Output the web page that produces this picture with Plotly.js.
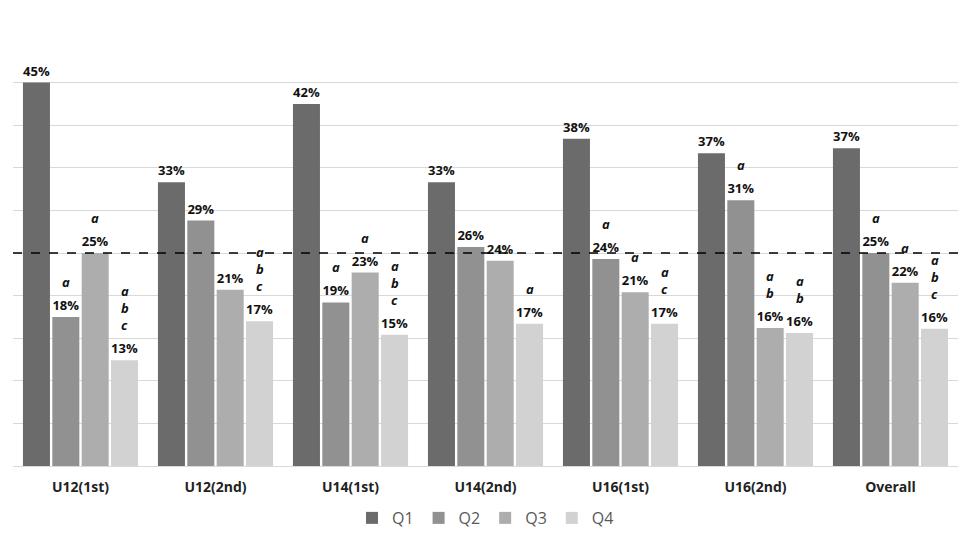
<!DOCTYPE html>
<html>
<head>
<meta charset="utf-8">
<script src="https://cdn.plot.ly/plotly-3.0.1.min.js"></script>
<style>
  html, body { margin: 0; padding: 0; background: #fff; }
  #graph { width: 972px; height: 547px; }
</style>
</head>
<body>
<div id="graph"></div>
<script>
// values (percent)
var categories = ['U12(1st)', 'U12(2nd)', 'U14(1st)', 'U14(2nd)', 'U16(1st)', 'U16(2nd)', 'Overall'];
var q1 = [45, 33.3, 42.5, 33.3, 38.4, 36.7, 37.3];
var q2 = [17.5, 28.8, 19.2, 25.7, 24.3, 31.2, 25.0];
var q3 = [25.0, 20.7, 22.7, 24.1, 20.4, 16.2, 21.5];
var q4 = [12.4, 17.0, 15.4, 16.7, 16.7, 15.6, 16.1];

// value labels as printed
var q1Labels = ['45%', '33%', '42%', '33%', '38%', '37%', '37%'];
var q2Labels = ['18%', '29%', '19%', '26%', '24%', '31%', '25%'];
var q3Labels = ['25%', '21%', '23%', '24%', '21%', '16%', '22%'];
var q4Labels = ['13%', '17%', '15%', '17%', '17%', '16%', '16%'];

// significance letters above each bar
var q1Letters = ['', '', '', '', '', '', ''];
var q2Letters = ['a', '', 'a', '', 'a', 'a', 'a'];
var q3Letters = ['a', '', 'a', '', 'a', 'ab', 'a'];
var q4Letters = ['abc', 'abc', 'abc', 'a', 'ac', 'ab', 'abc'];

var seriesNames = ['Q1', 'Q2', 'Q3', 'Q4'];
var seriesColors = ['#6b6b6b', '#919191', '#adadad', '#d2d2d2'];

var BARGAP = 0.13;
var GROUPGAP = 0.08;

function makeTrace(idx, values, labels) {
    return {
        type: 'bar',
        name: seriesNames[idx],
        x: categories,
        y: values,
        text: labels,
        textposition: 'outside',
        constraintext: 'none',
        cliponaxis: false,
        textfont: { family: 'Open Sans, sans-serif', size: 13, color: '#111', weight: 'bold' },
        marker: { color: seriesColors[idx], line: { width: 0 } },
        hoverinfo: 'x+y'
    };
}

var allValues = [q1, q2, q3, q4];
var allLetters = [q1Letters, q2Letters, q3Letters, q4Letters];

var data = [
    makeTrace(0, q1, q1Labels),
    makeTrace(1, q2, q2Labels),
    makeTrace(2, q3, q3Labels),
    makeTrace(3, q4, q4Labels)
];

// letters stacked above each value label, placed on the bar's slot in the group
var annotations = [];
var slot = (1 - BARGAP) / 4;
allLetters.forEach(function (letters, s) {
    var offset = (s - 1.5) * slot;
    letters.forEach(function (str, i) {
        var n = str.length;
        for (var j = 0; j < n; j++) {
            annotations.push({
                x: i + offset,
                y: allValues[s][i],
                xref: 'x',
                yref: 'y',
                text: '<i>' + str[j] + '</i>',
                showarrow: false,
                yanchor: 'middle',
                yshift: 35 + 17 * (n - 1 - j),
                font: { family: 'Open Sans, sans-serif', size: 13, color: '#111', weight: 'bold' }
            });
        }
    });
});

var layout = {
    width: 972,
    height: 547,
    margin: { l: 13, r: 14, t: 40, b: 81 },
    paper_bgcolor: '#ffffff',
    plot_bgcolor: '#ffffff',
    barmode: 'group',
    bargap: BARGAP,
    bargroupgap: GROUPGAP,
    font: { family: 'Open Sans, sans-serif', color: '#333' },
    showlegend: true,
    legend: {
        orientation: 'h',
        x: 0.5,
        xanchor: 'center',
        y: -0.122,
        yanchor: 'middle',
        font: { size: 16, color: '#595959' },
        itemwidth: 30,
        traceorder: 'normal'
    },
    xaxis: {
        type: 'category',
        showgrid: false,
        showline: true,
        linecolor: '#d9d9d9',
        linewidth: 1,
        ticks: '',
        tickfont: { family: 'Open Sans, sans-serif', size: 14, color: '#222', weight: 'bold' },
        ticklabelstandoff: 8,
        automargin: false
    },
    yaxis: {
        range: [0, 50],
        dtick: 5,
        showticklabels: false,
        ticks: '',
        showgrid: true,
        gridcolor: '#d9d9d9',
        gridwidth: 1,
        zeroline: false,
        showline: false,
        automargin: false
    },
    annotations: annotations,
    shapes: [{
        type: 'line',
        xref: 'paper',
        yref: 'y',
        x0: 0,
        x1: 1,
        y0: 25,
        y1: 25,
        line: { color: '#000', width: 1.5, dash: 'dash' }
    }]
};

Plotly.newPlot('graph', data, layout, { displayModeBar: false, staticPlot: true });
</script>
</body>
</html>
